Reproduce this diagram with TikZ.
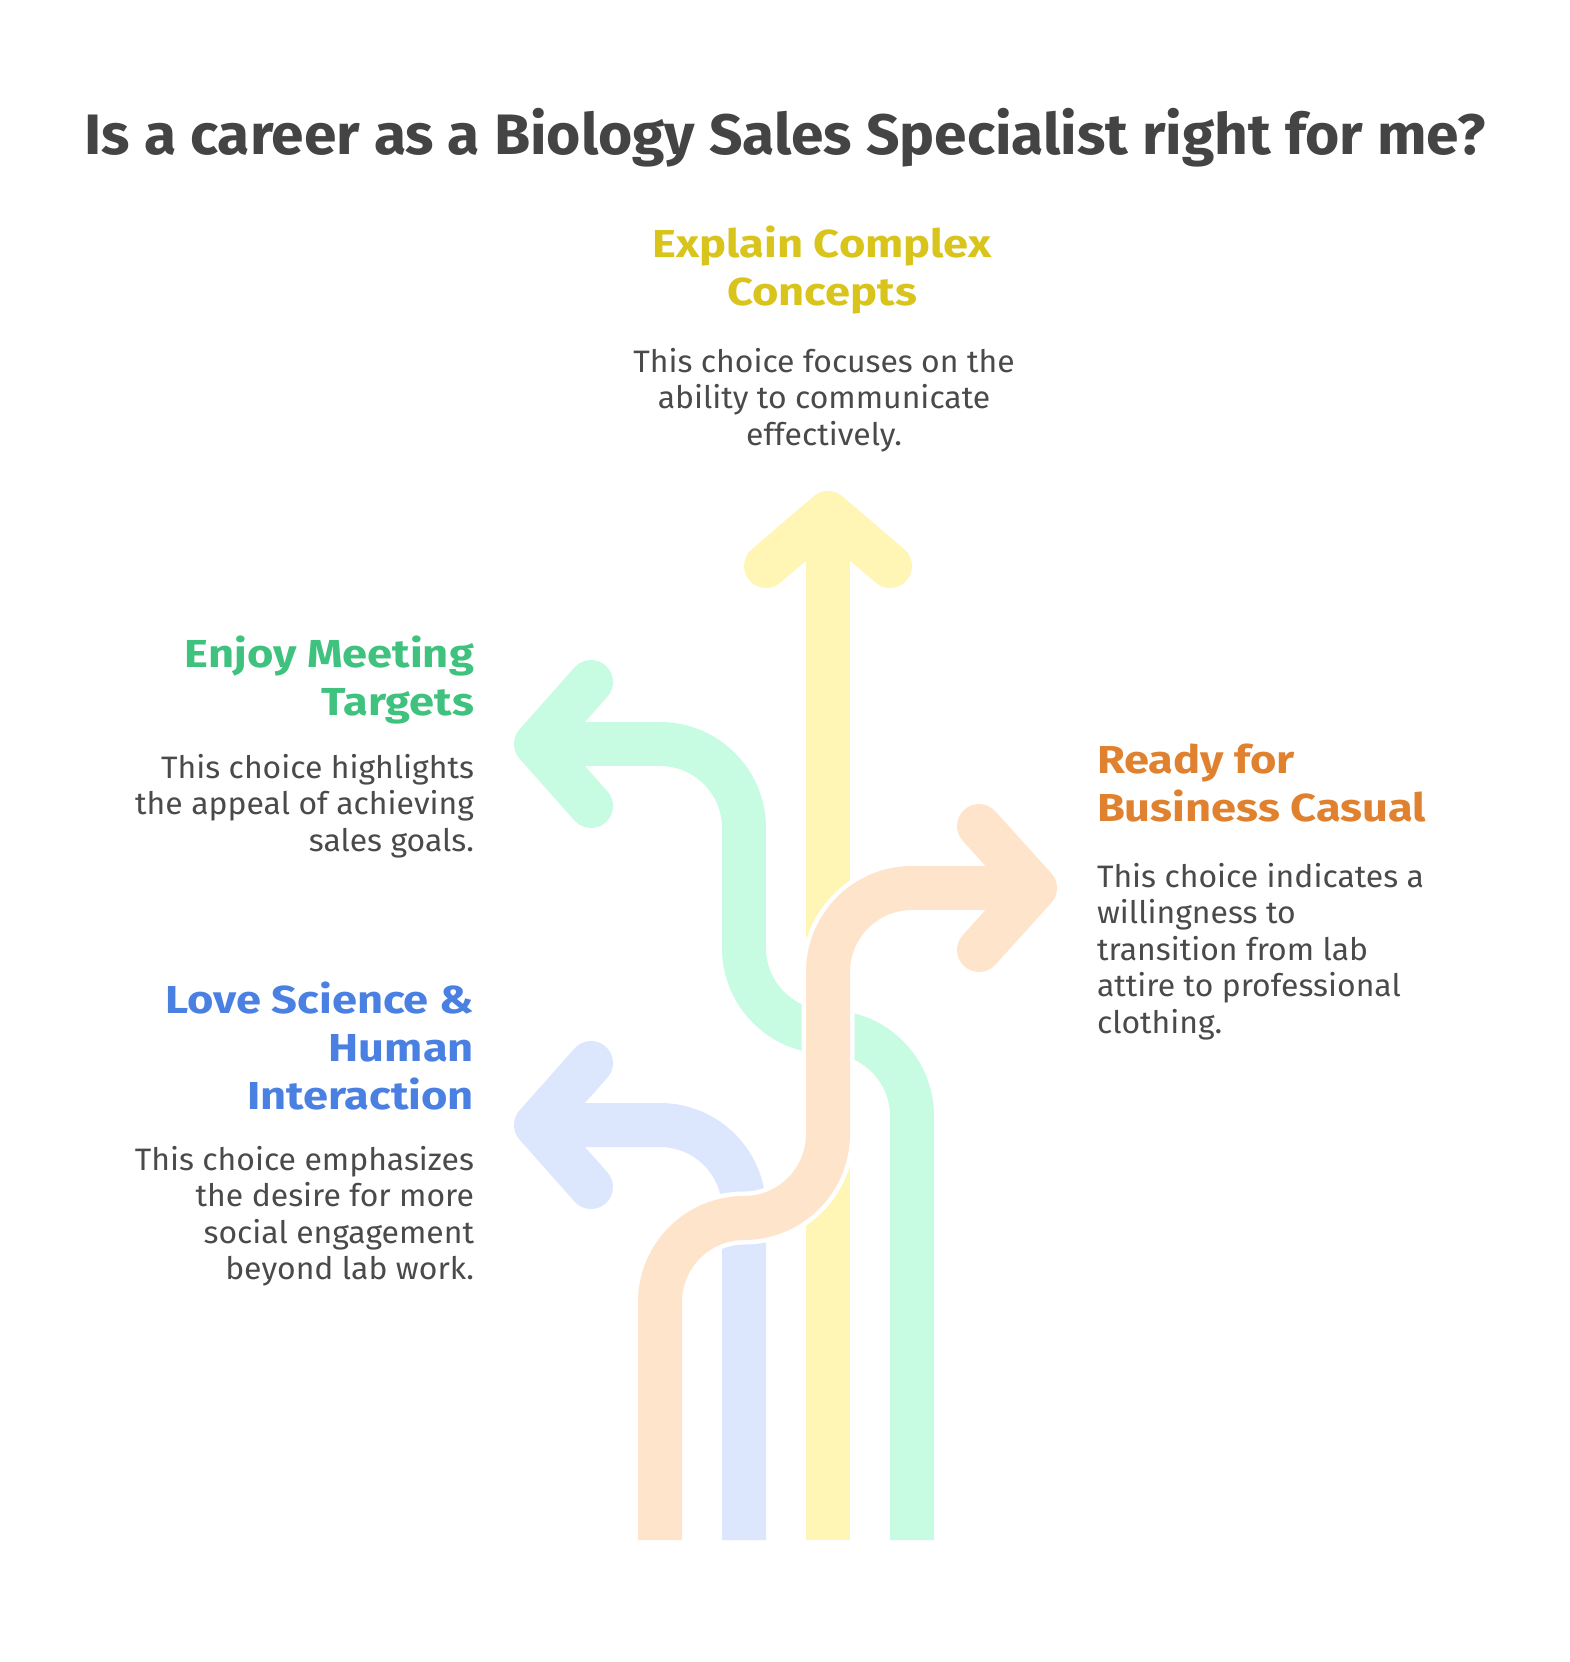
\documentclass[tikz,border=0pt]{standalone}
\usepackage{fontspec}
\setmainfont{Fira Sans}
\newfontfamily\headfont{Fira Sans}[FakeStretch=1.16]
\newfontfamily\titlefont{Fira Sans}[FakeStretch=1.03]
\newfontfamily\bodyfont{Fira Sans}[FakeStretch=1.03]
\definecolor{ylw}{HTML}{FFF6B5}
\definecolor{mint}{HTML}{C7FCE3}
\definecolor{peach}{HTML}{FFE4CC}
\definecolor{sky}{HTML}{DCE7FE}
\definecolor{ylwT}{HTML}{D9C41C}
\definecolor{mintT}{HTML}{3EC27E}
\definecolor{peachT}{HTML}{E0812F}
\definecolor{skyT}{HTML}{4A80E2}
\definecolor{ink}{HTML}{444444}
\definecolor{bodyink}{HTML}{4A4A4A}
\newcommand{\headsz}{\headfont\fontsize{39}{48}\selectfont\bfseries}
\newcommand{\bodysz}{\bodyfont\fontsize{31}{36.5}\selectfont}
\begin{document}
\begin{tikzpicture}[x=1pt,y=-1pt,
  shaft/.style={line width=44pt, line cap=butt, rounded corners=84pt},
  gapline/.style={line width=53pt, line cap=butt, rounded corners=84pt, white},
  chev/.style={line width=44pt, line cap=round, line join=round},
  txt/.style={inner sep=0pt, outer sep=0pt}]
\useasboundingbox[fill=white] (0,0) rectangle (1570,1662);

% blue arrow
\draw[shaft, sky] (536,1125) -- (744,1125) -- (744,1540);
\draw[chev, sky] (591,1063) -- (536,1125) -- (591,1187);
% yellow arrow
\draw[shaft, ylw] (828,1540) -- (828,513);
\draw[chev, ylw] (766,566) -- (828,513) -- (890,566);
% green arrow
\draw[shaft, mint] (536,744) -- (744,744) -- (744,1032) -- (912,1032) -- (912,1540);
\draw[chev, mint] (591,682) -- (536,744) -- (591,806);
% orange arrow on top, with white border
\draw[gapline] (660,1540) -- (660,1218) -- (828,1218) -- (828,888) -- (1035,888);
\draw[shaft, peach] (660,1540) -- (660,1218) -- (828,1218) -- (828,888) -- (1035,888);
\draw[chev, peach] (979,826) -- (1035,888) -- (979,950);

% title
\node[txt, anchor=base, text=ink] (title) at (785,154)
  {\titlefont\fontsize{57}{62}\selectfont\bfseries Is a career as a Biology Sales Specialist right for me?};

% yellow
\node[txt, anchor=base, text=ylwT] (yhead) at (822,257)
  {\parbox[t]{700pt}{\centering\headsz Explain Complex\\Concepts}};
\node[txt, anchor=base, text=bodyink] (ybody) at (824,372)
  {\parbox[t]{700pt}{\centering\bodysz This choice focuses on the\\ability to communicate\\effectively.}};

% green
\node[txt, anchor=base east, text=mintT] (ghead) at (474,667)
  {\parbox[t]{600pt}{\raggedleft\headsz Enjoy Meeting\\Targets}};
\node[txt, anchor=base east, text=bodyink] (gbody) at (474,778)
  {\parbox[t]{600pt}{\raggedleft\bodysz This choice highlights\\the appeal of achieving\\sales goals.}};

% blue
\node[txt, anchor=base east, text=skyT] (bhead) at (474,1013)
  {\parbox[t]{600pt}{\raggedleft\headsz Love Science \&\\Human\\Interaction}};
\node[txt, anchor=base east, text=bodyink] (bbody) at (474,1170)
  {\parbox[t]{600pt}{\raggedleft\bodysz This choice emphasizes\\the desire for more\\social engagement\\beyond lab work.}};

% orange
\node[txt, anchor=base west, text=peachT] (ohead) at (1097,773)
  {\parbox[t]{600pt}{\raggedright\headsz Ready for\\Business Casual}};
\node[txt, anchor=base west, text=bodyink] (obody) at (1097,887)
  {\parbox[t]{600pt}{\raggedright\bodysz This choice indicates a\\willingness to\\transition from lab\\attire to professional\\clothing.}};
\end{tikzpicture}
\end{document}
